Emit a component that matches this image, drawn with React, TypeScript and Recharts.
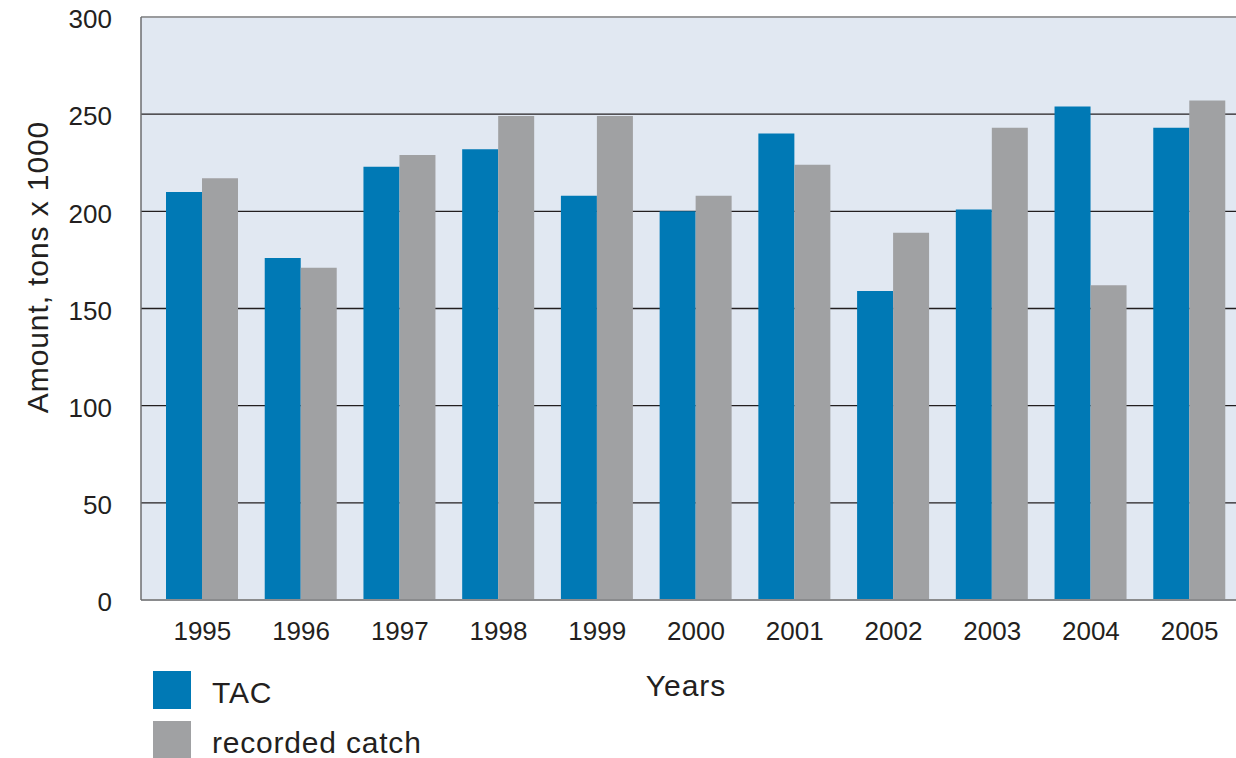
import React from 'react';
import {
  BarChart,
  Bar,
  XAxis,
  YAxis,
  CartesianGrid,
  Legend,
  Label,
  ReferenceLine
} from 'recharts';

const years = ['1995', '1996', '1997', '1998', '1999', '2000', '2001', '2002', '2003', '2004', '2005'];
const tac = [210, 176, 223, 232, 208, 200, 240, 159, 201, 254, 243];
const recordedCatch = [217, 171, 229, 249, 249, 208, 224, 189, 243, 162, 257];
const yTicks = [0, 50, 100, 150, 200, 250, 300];

const data = years.map((year, i) => ({ year, tac: tac[i], catch: recordedCatch[i] }));

const FONT = '"Liberation Sans", Arial, Helvetica, sans-serif';
const TEXT = '#231f20';
const BLUE = '#0079b5';
const GREY = '#a0a1a3';

function LegendBox({ payload }: any) {
  return (
    <div style={{ fontFamily: FONT, color: TEXT }}>
      {(payload || []).map((entry: any) => (
        <div key={entry.value} style={{ display: 'flex', alignItems: 'center', height: 50 }}>
          <span style={{ width: 38, height: 38, background: entry.color, display: 'inline-block' }} />
          <span
            style={{
              fontSize: 30,
              marginLeft: 21,
              lineHeight: '38px',
              letterSpacing: 0.8,
              position: 'relative',
              top: 3
            }}
          >
            {entry.value}
          </span>
        </div>
      ))}
    </div>
  );
}

export default function App() {
  return (
    <div style={{ width: 1236, height: 758, overflow: 'hidden', background: '#fff' }}>
      <style>{`body{margin:0;overflow:hidden}`}</style>
      <BarChart
        width={1236}
        height={758}
        data={data}
        margin={{ top: 17, right: -3, bottom: 0, left: 0 }}
        barGap={0}
        barSize={36}
      >
        <CartesianGrid vertical={false} stroke={TEXT} strokeWidth={1.4} fill="#e1e8f2" />
        <XAxis
          dataKey="year"
          height={158}
          padding={{ left: 12, right: 0 }}
          tickLine={false}
          tickSize={0}
          tickMargin={22}
          axisLine={{ stroke: '#8a8b8d', strokeWidth: 2 }}
          tick={{ fill: TEXT, fontSize: 26, fontFamily: FONT }}
        >
          <Label
            content={() => (
              <text
                x={686}
                y={696}
                textAnchor="middle"
                fill={TEXT}
                fontSize={30}
                fontFamily={FONT}
                letterSpacing={1}
              >
                Years
              </text>
            )}
          />
        </XAxis>
        <YAxis
          width={141}
          domain={[0, 300]}
          ticks={yTicks}
          interval={0}
          tickLine={false}
          tickSize={0}
          tickMargin={29}
          axisLine={{ stroke: '#6d6e71', strokeWidth: 1.5 }}
          tick={{ fill: TEXT, fontSize: 26, fontFamily: FONT, dy: 2 }}
        >
          <Label
            content={() => (
              <text
                x={48}
                y={267}
                transform="rotate(-90 48 267)"
                textAnchor="middle"
                fill={TEXT}
                fontSize={30}
                fontFamily={FONT}
                letterSpacing={0.9}
              >
                Amount, tons x 1000
              </text>
            )}
          />
        </YAxis>
        <ReferenceLine y={300} stroke="#9a9b9d" strokeWidth={2} />
        <Legend
          layout="vertical"
          align="center"
          verticalAlign="middle"
          wrapperStyle={{ left: 153, top: 665, width: 320, height: 100 }}
          content={<LegendBox />}
        />
        <Bar dataKey="tac" name="TAC" fill={BLUE} isAnimationActive={false} />
        <Bar dataKey="catch" name="recorded catch" fill={GREY} isAnimationActive={false} />
      </BarChart>
    </div>
  );
}
